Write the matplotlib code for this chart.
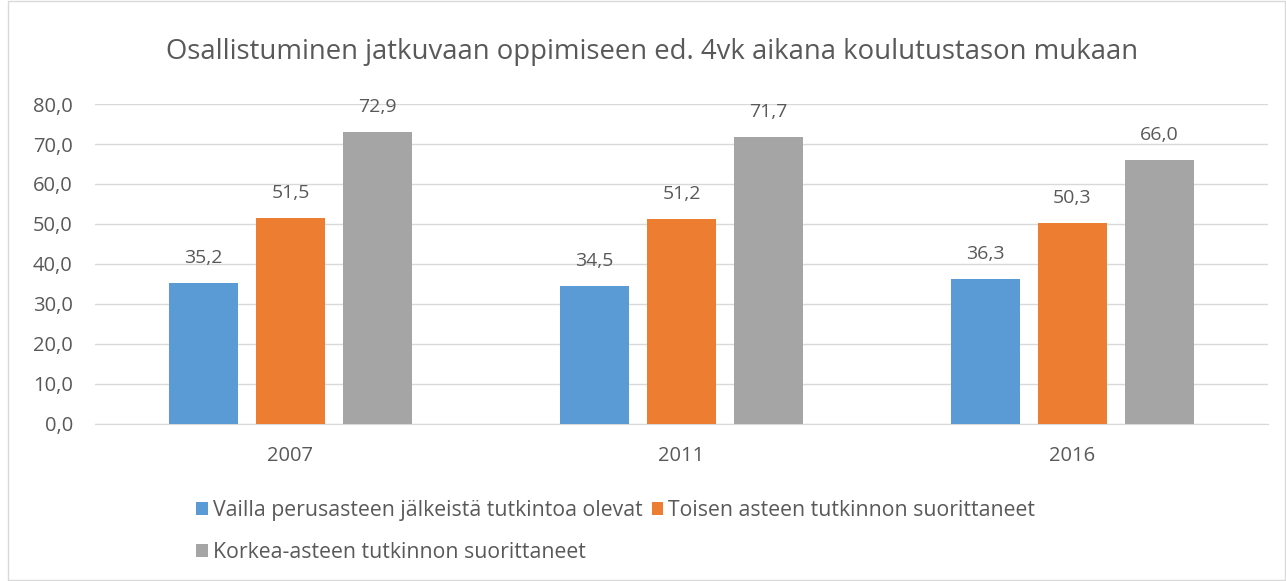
import matplotlib.pyplot as plt
import numpy as np
from matplotlib.patches import Rectangle

W, H = 1286, 581

years = ["2007", "2011", "2016"]
series_names = [
    "Vailla perusasteen jälkeistä tutkintoa olevat",
    "Toisen asteen tutkinnon suorittaneet",
    "Korkea-asteen tutkinnon suorittaneet",
]
vailla = [35.2, 34.5, 36.3]
toinen = [51.5, 51.2, 50.3]
korkea = [72.9, 71.7, 66.0]
colors = ["#5b9bd5", "#ed7d31", "#a5a5a5"]
yticks = [0, 10, 20, 30, 40, 50, 60, 70, 80]

TXT = "#595959"
plt.rcParams["font.family"] = ["Open Sans", "DejaVu Sans"]

fig = plt.figure(figsize=(W / 100, H / 100), dpi=100)
ax = fig.add_axes([95 / W, 157 / H, (1268 - 95) / W, 320 / H])

# outer chart border
fig.patches.append(Rectangle((8 / W, 1 / H), 1 - 9.5 / W, 1 - 2 / H,
                             transform=fig.transFigure, fill=False,
                             edgecolor="#d9d9d9", linewidth=1))

x = np.arange(len(years))
width = 0.174
step = 0.2225
handles = []
for i, (vals, name) in enumerate(zip([vailla, toinen, korkea], series_names)):
    bars = ax.bar(x + (i - 1) * step, vals, width, color=colors[i], label=name, zorder=3)
    handles.append(bars)
    for b, v in zip(bars, vals):
        ax.text(b.get_x() + b.get_width() / 2, v + 4.0, f"{v:.1f}".replace(".", ","),
                ha="center", va="bottom", fontsize=14, color=TXT)

ax.set_xlim(-0.5, 2.5)
ax.set_ylim(0, 80)
ax.set_yticks(yticks)
ax.set_yticklabels([f"{t:.1f}".replace(".", ",") for t in yticks])
ax.set_xticks(x)
ax.set_xticklabels(years)
ax.tick_params(axis="both", length=0, labelsize=14.5, colors=TXT)
ax.tick_params(axis="x", pad=16)
ax.tick_params(axis="y", pad=16)
ax.grid(axis="y", color="#d9d9d9", linewidth=1, zorder=0)
for s in ["top", "right", "left"]:
    ax.spines[s].set_visible(False)
ax.spines["bottom"].set_color("#d9d9d9")

fig.text(652 / W, 1 - 52 / H, "Osallistuminen jatkuvaan oppimiseen ed. 4vk aikana koulutustason mukaan",
         ha="center", va="center", fontsize=19.8, color=TXT)

# column-major order: blue, gray in first column, orange in second
order = [0, 2, 1]
leg = fig.legend([handles[i] for i in order], [series_names[i] for i in order],
                 loc="upper left", bbox_to_anchor=(192 / W, 1 - 496 / H), ncol=2,
                 frameon=False, fontsize=15.3, handlelength=0.55, handleheight=0.55,
                 handletextpad=0.25, columnspacing=0.4, labelspacing=0.98,
                 borderpad=0.2, borderaxespad=0)
for t in leg.get_texts():
    t.set_color(TXT)

plt.savefig("out.png", dpi=100)
plt.close()
